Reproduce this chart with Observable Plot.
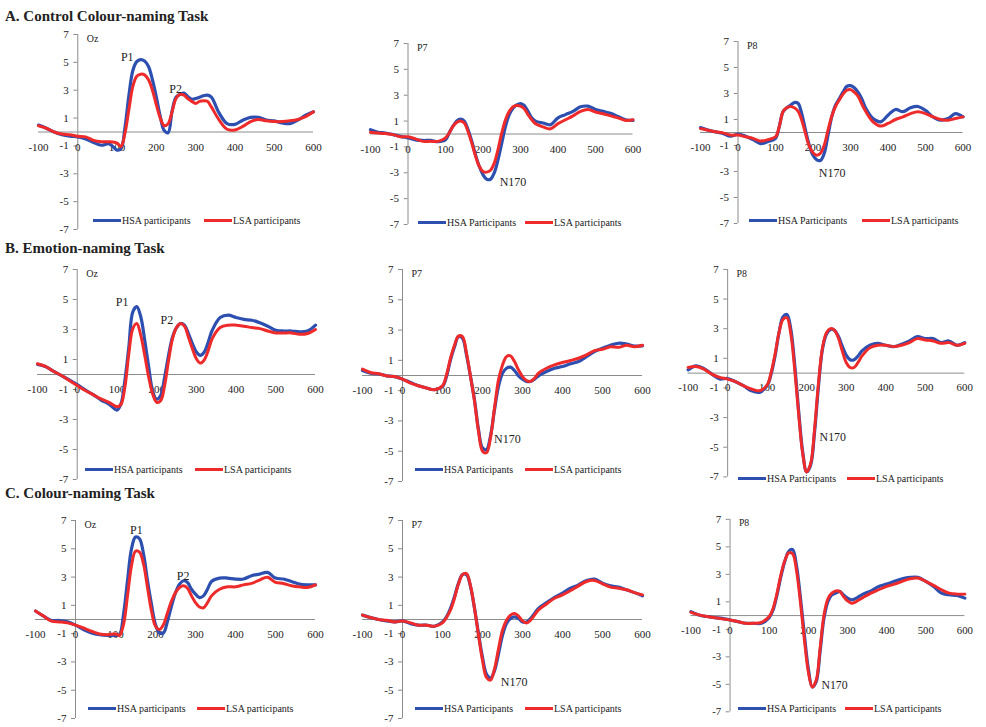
<!DOCTYPE html>
<html><head><meta charset="utf-8">
<script src="https://cdn.jsdelivr.net/npm/d3@7"></script>
<script src="https://cdn.jsdelivr.net/npm/@observablehq/plot@0.6"></script>
<style>
body{margin:0;background:#fff;}
#root{position:relative;width:986px;height:727px;overflow:hidden;font-family:"Liberation Serif","Times New Roman",serif;color:#222;}
.title{position:absolute;font-weight:bold;font-size:15px;white-space:nowrap;line-height:15px;}
.panel{position:absolute;}
.panel svg{overflow:visible;}
.leg{position:absolute;font-size:10px;white-space:nowrap;display:flex;align-items:center;height:12px;}
.sw{display:inline-block;width:28px;height:3px;margin-right:1px;}
</style></head><body><div id="root"></div>
<script>
// time points (ms)
const times = [-100,-80,-60,-40,-20,0,20,40,60,80,100,
  110,120,130,140,150,160,170,180,190,200,210,220,230,240,250,260,270,280,290,300,310,320,330,340,
  360,380,400,420,440,460,480,500,520,540,560,580,600];
const xTicks = [-100,0,100,200,300,400,500,600];
const yTicks = [7,5,3,1,-1,-3,-5,-7];

// A. Control Colour-naming Task
const hsaControlOz = [0.5,0.27,0,-0.2,-0.3,-0.35,-0.5,-0.75,-0.95,-0.85,-1.3,
  -1.2,0.3,2.6,4.4,5.05,5.2,5.1,4.7,3.75,2.5,1.1,0.1,-0.05,1.5,2.5,2.7,2.8,2.55,2.35,2.4,2.5,2.6,2.65,2.5,
  1.35,0.6,0.55,0.85,1.05,1.05,0.85,0.8,0.65,0.6,0.85,1.2,1.45];
const lsaControlOz = [0.45,0.27,0,-0.15,-0.2,-0.3,-0.35,-0.6,-0.7,-0.7,-0.8,
  -1.05,-0.1,1.6,3.25,4.0,4.15,4.1,3.75,3.0,1.95,1.0,0.45,0.6,1.45,2.4,2.7,2.65,2.4,2.2,2.05,2.2,2.25,2.2,1.8,
  0.85,0.2,0.15,0.4,0.75,0.9,0.8,0.75,0.75,0.8,0.9,1.1,1.45];
const hsaControlP7 = [0.33,0.13,0.08,-0.05,-0.18,-0.3,-0.45,-0.5,-0.5,-0.6,-0.45,
  0.1,0.6,1.0,1.15,1.0,0.35,-0.55,-1.6,-2.5,-3.15,-3.5,-3.5,-3.0,-2.0,-0.7,0.6,1.5,2.0,2.25,2.35,2.2,1.75,1.25,1.0,
  0.85,0.72,1.25,1.5,1.75,2.1,2.15,1.9,1.75,1.6,1.35,1.1,1.05];
const lsaControlP7 = [0.13,0.08,0.03,-0.05,-0.22,-0.22,-0.38,-0.57,-0.57,-0.57,-0.3,
  0.08,0.6,0.9,1.0,0.85,0.2,-0.7,-1.7,-2.5,-2.9,-2.95,-2.8,-2.25,-1.2,0.08,1.1,1.75,2.1,2.2,2.15,1.95,1.5,1.1,0.8,
  0.55,0.4,0.8,1.1,1.4,1.75,1.9,1.7,1.57,1.4,1.25,1.05,1.1];
const hsaControlP8 = [0.38,0.18,0.05,-0.08,-0.28,-0.13,-0.28,-0.55,-0.85,-0.7,-0.45,
  0.45,1.6,1.9,2.1,2.3,2.25,1.45,0.18,-0.97,-1.75,-2.1,-2.15,-1.6,-0.2,1.2,2.1,2.6,3.1,3.55,3.6,3.45,3.1,2.6,1.9,
  1.07,0.82,1.33,1.77,1.6,1.9,2.0,1.7,1.2,0.95,1.07,1.45,1.2];
const lsaControlP8 = [0.3,0.18,0.05,-0.03,-0.2,-0.2,-0.33,-0.45,-0.65,-0.55,-0.33,
  0.45,1.6,1.9,2.0,1.9,1.65,0.95,-0.08,-1.05,-1.55,-1.75,-1.6,-0.97,0.18,1.25,2.0,2.5,2.95,3.25,3.3,3.1,2.8,2.2,1.65,
  0.82,0.5,0.7,1.0,1.2,1.45,1.6,1.45,1.2,1.0,0.95,1.07,1.2];

// B. Emotion-naming Task
const hsaEmotionOz = [0.67,0.54,0.22,-0.07,-0.36,-0.67,-1.03,-1.34,-1.7,-1.97,-2.37,
  -1.97,-0.4,1.83,4.18,4.52,3.85,2.28,0.5,-1.1,-1.65,-1.4,-0.2,1.28,2.5,3.13,3.4,3.29,2.73,2.06,1.5,1.28,1.5,2.17,2.95,
  3.8,3.96,3.8,3.67,3.62,3.45,3.22,2.95,2.9,2.9,2.84,2.9,3.29];
const lsaEmotionOz = [0.72,0.54,0.22,-0.07,-0.4,-0.74,-1.07,-1.34,-1.63,-1.86,-2.15,
  -2.0,-0.85,1.39,3.06,3.4,2.62,1.28,-0.18,-1.3,-1.85,-1.75,-0.74,0.94,2.39,3.13,3.4,3.22,2.5,1.72,1.05,0.76,0.98,1.61,2.39,
  3.13,3.29,3.29,3.22,3.13,3.06,2.9,2.77,2.77,2.77,2.68,2.73,3.0];
const hsaEmotionP7 = [0.33,0.15,0.11,-0.02,-0.07,-0.24,-0.46,-0.68,-0.83,-0.94,-0.72,
  -0.07,1.03,1.9,2.57,2.46,1.36,-0.07,-1.6,-3.57,-4.78,-4.89,-4.0,-2.26,-0.72,0.15,0.48,0.55,0.33,-0.02,-0.24,-0.39,-0.39,-0.24,-0.02,
  0.26,0.48,0.59,0.77,0.92,1.25,1.58,1.8,2.0,2.13,2.08,1.95,1.95];
const lsaEmotionP7 = [0.42,0.2,0.11,-0.02,-0.07,-0.24,-0.5,-0.68,-0.83,-0.94,-0.68,
  0.04,1.14,2.0,2.6,2.57,1.47,-0.07,-1.71,-3.68,-5.0,-5.1,-4.1,-2.15,-0.29,0.7,1.25,1.3,0.92,0.37,-0.07,-0.33,-0.39,-0.18,0.15,
  0.48,0.7,0.86,0.99,1.14,1.36,1.64,1.73,1.9,1.86,2.0,1.9,2.0];
const hsaEmotionP8 = [0.22,0.49,0.31,-0.07,-0.4,-0.36,-0.58,-0.85,-1.19,-1.3,-0.85,
  -0.07,1.16,2.73,3.8,3.96,2.95,0.49,-2.64,-5.32,-6.67,-6.22,-3.98,-0.85,1.61,2.62,2.95,2.9,2.5,1.83,1.21,0.9,0.9,1.16,1.5,
  1.88,2.01,1.88,1.79,1.95,2.17,2.46,2.33,2.33,2.06,2.17,1.88,2.06];
const lsaEmotionP8 = [0.38,0.45,0.27,-0.07,-0.29,-0.4,-0.58,-0.85,-1.07,-1.19,-0.8,
  0.04,1.28,2.73,3.62,3.74,2.62,0.16,-2.86,-5.44,-6.67,-6.11,-3.76,-0.63,1.72,2.73,3.0,2.9,2.39,1.5,0.72,0.38,0.38,0.72,1.16,
  1.72,1.88,1.88,1.79,1.88,2.06,2.33,2.24,2.17,2.01,2.06,1.88,2.01];

// C. Colour-naming Task
const hsaColourOz = [0.6,0.24,-0.07,-0.07,-0.17,-0.4,-0.71,-0.95,-1.07,-1.12,-1.12,
  -1.07,0.36,2.74,5.0,5.83,5.71,4.64,2.74,1.07,-0.36,-0.95,-0.95,-0.12,0.95,1.9,2.5,2.74,2.62,2.14,1.79,1.55,1.67,2.14,2.69,
  2.93,2.93,2.86,2.86,3.1,3.21,3.33,2.93,2.86,2.69,2.5,2.45,2.45];
const lsaColourOz = [0.6,0.24,-0.12,-0.17,-0.24,-0.4,-0.6,-0.83,-1.02,-1.07,-1.02,
  -1.12,-0.36,1.67,3.81,4.83,4.76,3.93,2.26,0.6,-0.48,-0.71,-0.36,0.48,1.31,1.9,2.26,2.38,2.21,1.67,1.19,0.88,0.83,1.19,1.67,
  2.14,2.31,2.31,2.45,2.55,2.79,2.98,2.62,2.55,2.38,2.31,2.26,2.45];
const hsaColourP7 = [0.31,0.14,0,-0.1,-0.17,-0.1,-0.29,-0.4,-0.4,-0.48,-0.17,
  0.19,0.79,1.62,2.57,3.17,3.17,2.33,0.79,-1.0,-2.67,-3.86,-4.14,-3.62,-2.43,-1.12,-0.29,0.07,0.19,0.07,-0.17,-0.17,0.07,0.43,0.79,
  1.19,1.57,1.86,2.21,2.45,2.76,2.86,2.57,2.38,2.29,2.1,1.9,1.67];
const lsaColourP7 = [0.31,0.14,0,-0.05,-0.17,-0.1,-0.24,-0.4,-0.4,-0.48,-0.24,
  0.14,0.67,1.5,2.52,3.17,3.24,2.38,0.79,-1.12,-2.9,-4.1,-4.29,-3.5,-2.07,-0.76,-0.05,0.31,0.43,0.24,-0.1,-0.24,-0.05,0.31,0.67,
  1.1,1.5,1.74,2.05,2.38,2.69,2.76,2.52,2.29,2.21,2.1,1.9,1.74];
const hsaColourP8 = [0.29,0.05,-0.07,-0.15,-0.2,-0.32,-0.44,-0.56,-0.56,-0.56,-0.15,
  0.41,1.51,2.85,3.95,4.68,4.8,3.59,1.27,-1.41,-3.85,-5.2,-4.83,-2.63,-0.2,1.02,1.51,1.63,1.76,1.51,1.27,1.15,1.22,1.39,1.56,
  1.8,2.12,2.29,2.49,2.68,2.78,2.78,2.49,2.12,1.63,1.51,1.46,1.27];
const lsaColourP8 = [0.24,0.05,-0.07,-0.15,-0.24,-0.32,-0.44,-0.56,-0.56,-0.49,-0.07,
  0.54,1.63,2.98,4.0,4.56,4.49,3.22,0.9,-1.78,-4.1,-5.2,-4.71,-2.39,0.05,1.22,1.63,1.8,1.76,1.39,1.07,0.9,0.98,1.15,1.32,
  1.63,1.88,2.12,2.29,2.49,2.68,2.73,2.49,2.2,1.88,1.63,1.56,1.56];

// component annotations: [label, ms, µV]
const annControlOz = [["P1",126,5.4],["P2",249,3.1]];
const annControlP7 = [["N170",280,-3.7]];
const annControlP8 = [["N170",251,-3.15]];
const annEmotionOz = [["P1",113,4.8],["P2",226,3.6]];
const annEmotionP7 = [["N170",262,-4.2]];
const annEmotionP8 = [["N170",266,-4.35]];
const annColourOz = [["P1",152,6.35],["P2",269,3.1]];
const annColourP7 = [["N170",279,-4.45]];
const annColourP8 = [["N170",267,-5.1]];

const sectionTitles = ["A. Control Colour-naming Task","B. Emotion-naming Task","C. Colour-naming Task"];
const titleTops = [9, 241, 486];

const BLUE = "#2d4fb0", RED = "#ee2a2a", AXIS = "#8c8c8c";

// layout (pixel frames) for each panel
const panels = [
  {el:"Oz", h:hsaControlOz, l:lsaControlOz, ann:annControlOz, hsa:"HSA participants", x0:38, x1:313, y0:34, y1:229, ly:220, lb:93, lr:204},
  {el:"P7", h:hsaControlP7, l:lsaControlP7, ann:annControlP7, hsa:"HSA Participants", x0:369.5, x1:632, y0:43, y1:224, ly:222, lb:418, lr:525},
  {el:"P8", h:hsaControlP8, l:lsaControlP8, ann:annControlP8, hsa:"HSA Participants", x0:699.5, x1:962, y0:41, y1:223, ly:220, lb:749, lr:862},
  {el:"Oz", h:hsaEmotionOz, l:lsaEmotionOz, ann:annEmotionOz, hsa:"HSA participants", x0:37, x1:315, y0:269, y1:479, ly:469, lb:85, lr:195},
  {el:"P7", h:hsaEmotionP7, l:lsaEmotionP7, ann:annEmotionP7, hsa:"HSA Participants", x0:362, x1:642, y0:269, y1:481, ly:469, lb:415, lr:525},
  {el:"P8", h:hsaEmotionP8, l:lsaEmotionP8, ann:annEmotionP8, hsa:"HSA Participants", x0:688, x1:968, y0:269, y1:479, ly:478, lb:738, lr:847},
  {el:"Oz", h:hsaColourOz, l:lsaColourOz, ann:annColourOz, hsa:"HSA participants", x0:35, x1:315, y0:520, y1:718, ly:708, lb:88, lr:197},
  {el:"P7", h:hsaColourP7, l:lsaColourP7, ann:annColourP7, hsa:"HSA Participants", x0:362, x1:642, y0:520, y1:718, ly:708, lb:415, lr:525},
  {el:"P8", h:hsaColourP8, l:lsaColourP8, ann:annColourP8, hsa:"HSA Participants", x0:691, x1:970, y0:519, y1:715, ly:708, lb:738, lr:845}
];

const root = document.getElementById("root");
sectionTitles.forEach((t,i)=>{
  const d = document.createElement("div");
  d.className = "title"; d.textContent = t;
  d.style.left = "5px"; d.style.top = titleTops[i] + "px";
  root.appendChild(d);
});

const ML = 32, MR = 22, MT = 8, MB = 8;
for (const p of panels) {
  if (p.h.length !== times.length || p.l.length !== times.length) console.warn("length mismatch", p.el);
  const hsaData = times.map((t,i)=>({t, v:p.h[i]}));
  const lsaData = times.map((t,i)=>({t, v:p.l[i]}));
  const ann = p.ann.map(([label,t,v])=>({label,t,v}));
  const chart = Plot.plot({
    width: p.x1 - p.x0 + ML + MR,
    height: p.y1 - p.y0 + MT + MB,
    marginLeft: ML, marginRight: MR, marginTop: MT, marginBottom: MB,
    x: {domain:[-100,600], axis:null},
    y: {domain:[-7,7], axis:null},
    style: {fontFamily:"'Liberation Serif','Times New Roman',serif", fontSize:"11px", background:"transparent", color:"#222", overflow:"visible"},
    marks: [
      Plot.ruleY([0], {stroke:AXIS, strokeWidth:1}),
      Plot.ruleX([0], {y1:-7, y2:7, stroke:AXIS, strokeWidth:1}),
      Plot.ruleY(yTicks, {y:d=>d, x1:0, x2:-10, stroke:AXIS, strokeWidth:1}),
      Plot.text(yTicks, {x:0, y:d=>d, text:d=>String(d), dx:-9, textAnchor:"end", fill:"#222"}),
      Plot.text(xTicks, {x:d=>d, y:0, text:d=>String(d), dy:15, fill:"#222"}),
      Plot.text([p.el], {x:0, y:7, text:d=>d, dx:9, dy:4, textAnchor:"start", fontSize:10, fill:"#222"}),
      Plot.line(hsaData, {x:"t", y:"v", stroke:BLUE, strokeWidth:3.2, curve:"catmull-rom"}),
      Plot.line(lsaData, {x:"t", y:"v", stroke:RED, strokeWidth:3, curve:"catmull-rom"}),
      Plot.text(ann, {x:"t", y:"v", text:"label", fontSize:12, fill:"#222"})
    ]
  });
  const wrap = document.createElement("div");
  wrap.className = "panel";
  wrap.style.left = (p.x0 - ML) + "px";
  wrap.style.top = (p.y0 - MT) + "px";
  wrap.appendChild(chart);
  root.appendChild(wrap);
  // legend
  [[p.lb, BLUE, p.hsa],[p.lr, RED, "LSA participants"]].forEach(([x,c,txt])=>{
    const lg = document.createElement("div");
    lg.className = "leg";
    lg.style.left = x + "px"; lg.style.top = (p.ly - 6) + "px";
    const sw = document.createElement("span"); sw.className = "sw"; sw.style.background = c;
    const tx = document.createElement("span"); tx.textContent = txt;
    lg.appendChild(sw); lg.appendChild(tx);
    root.appendChild(lg);
  });
}
</script></body></html>
